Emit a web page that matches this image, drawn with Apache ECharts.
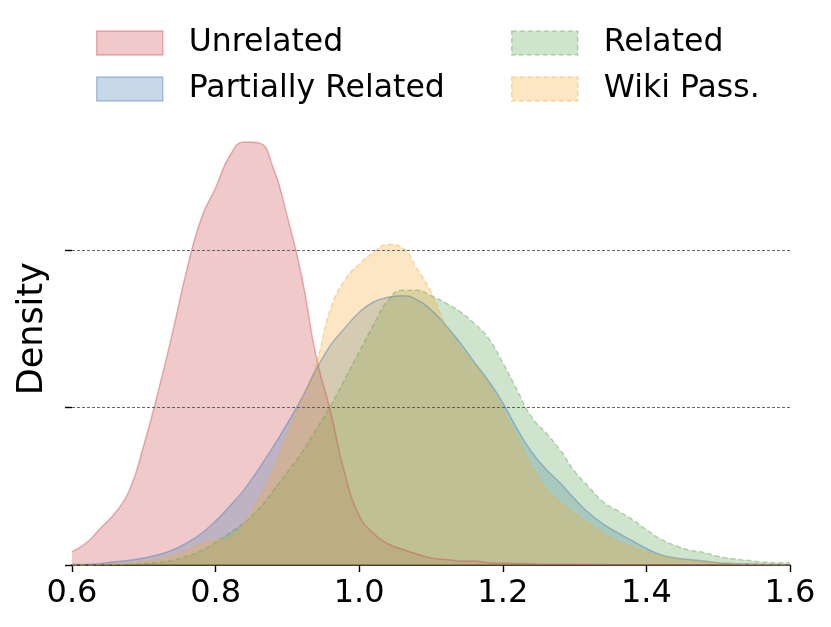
<!DOCTYPE html>
<html>
<head>
    <meta charset="utf-8">
    <title>Density</title>
    <script src="https://cdn.jsdelivr.net/npm/echarts@6/dist/echarts.min.js"></script>
</head>
<style>
    *{
        margin: 0;
        padding: 0;
    }
    #chart{
        width: 831px;
        height: 627px;
        background: #fff;
    }
</style>
<body>
<div id="chart"></div>
<script>
    // x positions of the density curves
    let xs = [0.60,0.62,0.64,0.66,0.68,0.70,0.72,0.74,0.76,0.78,
              0.80,0.82,0.84,0.86,0.88,0.90,0.92,0.94,0.96,0.98,
              1.00,1.02,1.04,1.06,1.08,1.10,1.12,1.14,1.16,1.18,
              1.20,1.22,1.24,1.26,1.28,1.30,1.32,1.34,1.36,1.38,
              1.40,1.42,1.44,1.46,1.48,1.50,1.52,1.54,1.56,1.58,1.60];

    let unrelated = [0.17,0.28,0.47,0.66,0.95,1.52,2.20,2.95,3.75,4.40,
                     4.79,5.20,5.37,5.36,5.05,4.42,3.66,2.65,1.95,1.16,
                     0.63,0.40,0.27,0.20,0.14,0.09,0.07,0.05,0.05,0.03,
                     0.025,0.02,0.015,0.01,0.01,0.008,0.006,0.005,0.004,0.003,
                     0.002,0.002,0.001,0.001,0,0,0,0,0,0,0];
    let partial = [0.005,0.01,0.02,0.04,0.06,0.09,0.13,0.19,0.28,0.40,
                   0.56,0.75,0.96,1.22,1.50,1.80,2.12,2.48,2.79,3.01,
                   3.21,3.34,3.40,3.42,3.37,3.24,3.05,2.83,2.58,2.34,
                   2.06,1.73,1.44,1.22,1.04,0.84,0.66,0.52,0.41,0.31,
                   0.21,0.13,0.09,0.07,0.05,0.03,0.02,0.015,0.01,0.005,0.003];
    let related = [0,0,0.003,0.005,0.01,0.02,0.03,0.06,0.11,0.18,
                   0.29,0.41,0.54,0.71,0.94,1.18,1.43,1.72,2.02,2.36,
                   2.71,3.05,3.36,3.49,3.49,3.42,3.33,3.22,3.07,2.88,
                   2.57,2.22,1.88,1.68,1.46,1.19,0.99,0.80,0.69,0.58,
                   0.45,0.33,0.25,0.19,0.16,0.11,0.08,0.06,0.04,0.03,0.03];
    let wiki = [0,0,0.005,0.01,0.02,0.04,0.07,0.12,0.18,0.27,
                0.31,0.35,0.53,0.84,1.20,1.66,2.10,2.56,3.25,3.62,
                3.82,3.97,4.07,4.03,3.77,3.47,3.06,2.78,2.55,2.30,
                1.98,1.62,1.27,0.97,0.80,0.65,0.52,0.40,0.30,0.23,
                0.17,0.12,0.08,0.06,0.04,0.03,0.02,0.01,0.008,0.005,0.003];

    let names = ['Unrelated', 'Partially Related', 'Related', 'Wiki Pass.'];
    let colors = ['rgb(205,78,82)', 'rgb(72,125,178)', 'rgb(95,165,85)', 'rgb(245,172,55)'];
    let fills = ['rgba(205,78,82,0.3)', 'rgba(72,125,178,0.3)', 'rgba(95,165,85,0.3)', 'rgba(245,172,55,0.3)'];
    let edges = ['rgba(205,78,82,0.42)', 'rgba(72,125,178,0.42)', 'rgba(95,165,85,0.42)', 'rgba(245,172,55,0.42)'];
    let dashed = [false, false, true, true];
    let values = [unrelated, partial, related, wiki];

    let font = 'DejaVu Sans';

    let series = names.map((name, i) => ({
        name,
        type: 'line',
        data: xs.map((x, j) => [x, values[i][j]]),
        smooth: 0.5,
        showSymbol: false,
        symbol: 'none',
        silent: true,
        lineStyle: {
            color: colors[i],
            opacity: 0.42,
            width: 1.5,
            type: dashed[i] ? [5, 3] : 'solid'
        },
        areaStyle: {
            color: colors[i],
            opacity: 0.3
        }
    }));

    let legendItem = i => ({
        name: names[i],
        itemStyle: {
            color: fills[i],
            borderColor: edges[i],
            borderWidth: 1.5,
            borderType: dashed[i] ? [5, 3] : 'solid'
        }
    });

    let legendBase = {
        orient: 'vertical',
        icon: 'rect',
        itemWidth: 66,
        itemHeight: 24,
        itemGap: 14,
        top: 22,
        selectedMode: false,
        textStyle: {
            fontFamily: font,
            fontSize: 31.5,
            color: '#000',
            padding: [0, 0, 0, 21]
        }
    };

    let chart = echarts.init(document.getElementById('chart'));
    let option = {
        animation: false,
        backgroundColor: '#fff',
        grid: {
            left: 72,
            right: 41,
            top: 92.5,
            bottom: 62
        },
        legend: [
            Object.assign({}, legendBase, {left: 91, data: [legendItem(0), legendItem(1)]}),
            Object.assign({}, legendBase, {left: 506, data: [legendItem(2), legendItem(3)]})
        ],
        xAxis: {
            type: 'value',
            min: 0.6,
            max: 1.6,
            interval: 0.2,
            axisLine: {show: true, lineStyle: {color: '#000', width: 1.6}},
            axisTick: {show: true, length: 7, lineStyle: {color: '#000', width: 1.4}},
            axisLabel: {
                margin: 13,
                fontFamily: font,
                fontSize: 32,
                color: '#000',
                formatter: v => v.toFixed(1)
            },
            splitLine: {show: false}
        },
        yAxis: {
            type: 'value',
            min: 0,
            max: 6,
            name: 'Density',
            nameLocation: 'middle',
            nameRotate: 90,
            nameGap: 22,
            nameTextStyle: {fontFamily: font, fontSize: 35, color: '#000'},
            axisLine: {show: false},
            axisTick: {show: true, length: 7, customValues: [0, 2, 4], lineStyle: {color: '#000', width: 1.4}},
            axisLabel: {show: false, customValues: [0, 2, 4]},
            splitLine: {show: false}
        },
        series
    };
    // dashed grid lines at the y ticks
    series[0].markLine = {
        silent: true,
        symbol: 'none',
        label: {show: false},
        lineStyle: {color: '#555', width: 0.9, type: [3, 2]},
        data: [{yAxis: 2}, {yAxis: 4}]
    };
    chart.setOption(option);
</script>
</body>
</html>
